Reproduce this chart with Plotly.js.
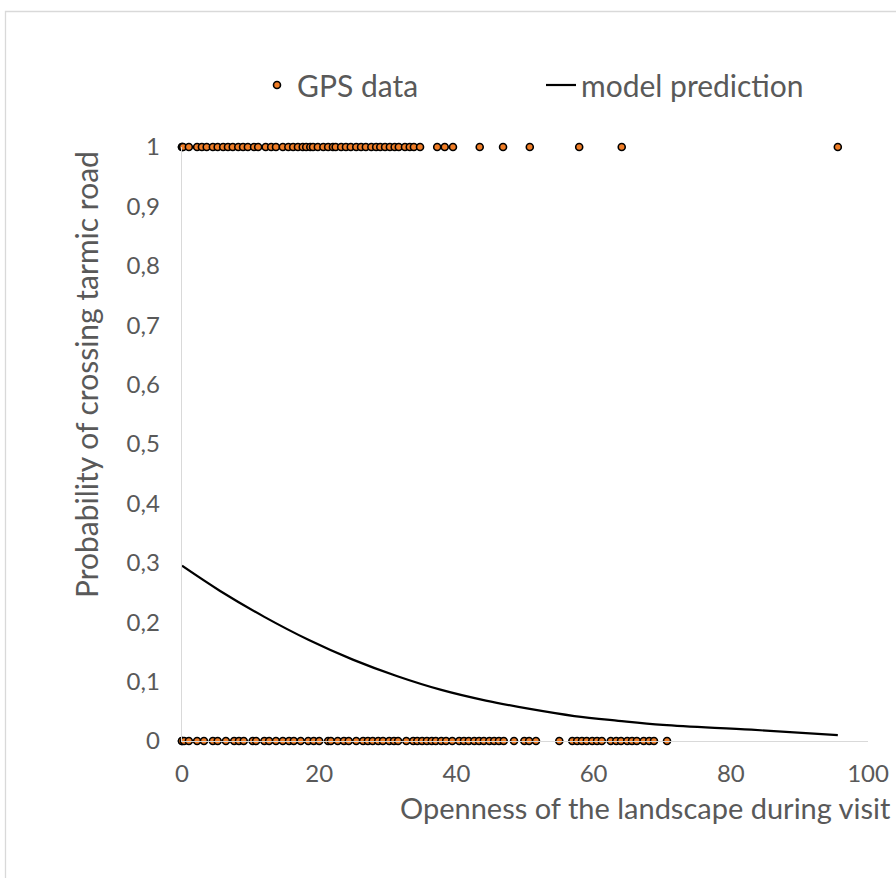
<!DOCTYPE html>
<html>
<head>
<meta charset="utf-8">
<script src="https://cdn.plot.ly/plotly-3.0.1.min.js"></script>
<style>html,body{margin:0;padding:0;background:#fff;}#chart{width:896px;height:878px;}</style>
</head>
<body>
<div id="chart"></div>
<script>
// GPS data: openness values of visits with crossing (y = 1)
const crossX = [0, 0, 0.15, 1.0, 2.2, 2.9, 3.6, 4.5, 5.2, 6.0, 6.7, 7.4, 8.2, 8.9, 9.6, 10.5, 11.1,
  12.2, 13.0, 13.7, 14.7, 15.5, 16.2, 16.9, 17.6, 18.1, 18.7, 19.1, 19.8, 20.6, 21.3, 22.0, 22.4,
  23.2, 23.9, 24.6, 25.4, 26.1, 26.8, 27.6, 28.3, 28.9, 29.6, 30.3, 31.0, 31.6, 32.5, 33.2, 33.8,
  34.7, 37.2, 38.3, 39.5, 43.4, 46.8, 50.7, 57.9, 64.1, 95.6];
// GPS data: openness values of visits without crossing (y = 0)
const noCrossX = [0, 0, 0.3, 1.0, 2.2, 3.2, 4.5, 5.2, 6.4, 7.6, 8.3, 9.0, 10.3, 10.8, 12.0, 12.7,
  13.7, 14.7, 15.6, 16.3, 17.3, 18.4, 19.2, 20.0, 21.3, 21.7, 22.7, 23.6, 24.3, 25.4, 26.4, 27.1,
  27.8, 28.6, 29.3, 30.2, 30.9, 31.5, 32.7, 33.7, 34.3, 35.0, 35.7, 36.4, 37.0, 37.8, 38.5, 39.4,
  40.4, 41.1, 41.8, 42.6, 43.3, 44.0, 44.8, 45.5, 46.2, 46.9, 48.4, 49.9, 50.6, 51.6, 55.0, 56.9,
  57.6, 58.3, 59.0, 59.8, 60.5, 61.2, 62.5, 63.3, 64.0, 64.9, 65.6, 66.3, 67.3, 68.1, 68.8, 70.7];
// model prediction curve
const modelX = [0, 5.5, 12.0, 18.5, 24.9, 31.4, 37.8, 44.3, 50.7, 57.2, 63.6, 70.1, 83.0, 95.6];
const modelY = [0.295, 0.253, 0.209, 0.170, 0.137, 0.109, 0.086, 0.068, 0.054, 0.042, 0.034, 0.027, 0.019, 0.010];
const yTickVals = [0, 0.1, 0.2, 0.3, 0.4, 0.5, 0.6, 0.7, 0.8, 0.9, 1];
const yTickText = ["0", "0,1", "0,2", "0,3", "0,4", "0,5", "0,6", "0,7", "0,8", "0,9", "1"];
const xTickVals = [0, 20, 40, 60, 80, 100];

const gpsX = crossX.concat(noCrossX);
const gpsY = crossX.map(() => 1).concat(noCrossX.map(() => 0));

const FONT = "Lato, 'Open Sans', sans-serif";
const GRAY = "#595959";

const L = 182, R = 868, T = 147, B = 741;
const W = 896, H = 878;
const px2x = p => (p - L) / (R - L);
const px2y = p => (B - p) / (B - T);

const traces = [
  {
    x: gpsX, y: gpsY, type: "scatter", mode: "markers", name: "GPS data",
    cliponaxis: false,
    marker: { size: 7, color: "#F07D26", line: { color: "#000000", width: 1.6 } }
  },
  {
    x: modelX, y: modelY, type: "scatter", mode: "lines", name: "model prediction",
    line: { color: "#000000", width: 2.2, shape: "spline", smoothing: 1 }
  }
];

const layout = {
  width: W, height: H,
  margin: { l: L, r: W - R, t: T, b: H - B, pad: 0 },
  paper_bgcolor: "#ffffff", plot_bgcolor: "#ffffff",
  font: { family: FONT, color: GRAY, size: 24 },
  showlegend: true,
  legend: {
    orientation: "h", x: px2x(257), xanchor: "left", y: px2y(85), yanchor: "middle",
    font: { family: FONT, size: 30, color: GRAY }, entrywidth: 239, bgcolor: "rgba(0,0,0,0)"
  },
  xaxis: {
    range: [0, 100], tickvals: xTickVals, ticktext: xTickVals.map(String),
    showgrid: false, zeroline: false, showline: true, linecolor: "#d9d9d9", linewidth: 1.3,
    ticks: "", ticklabelstandoff: 11, tickfont: { family: FONT, size: 24, color: GRAY }
  },
  yaxis: {
    range: [0, 1], tickvals: yTickVals, ticktext: yTickText,
    showgrid: false, zeroline: false, showline: true, linecolor: "#d9d9d9", linewidth: 1.3,
    ticks: "", ticklabelstandoff: 16, tickfont: { family: FONT, size: 24, color: GRAY }
  },
  annotations: [
    { text: "Openness of the landscape during visit", xref: "paper", yref: "paper",
      x: px2x(398), y: px2y(807), xanchor: "left", yanchor: "middle", showarrow: false,
      font: { family: FONT, size: 29, color: GRAY } },
    { text: "Probability of crossing tarmic road", xref: "paper", yref: "paper",
      x: px2x(86), y: px2y(375), xanchor: "center", yanchor: "middle", textangle: -90, showarrow: false,
      font: { family: FONT, size: 30, color: GRAY } }
  ],
  shapes: [
    { type: "rect", xref: "paper", yref: "paper", x0: px2x(5.5), x1: px2x(910), y0: px2y(11.5), y1: px2y(890),
      line: { color: "#d9d9d9", width: 1.3 }, fillcolor: "rgba(0,0,0,0)", layer: "below" }
  ]
};

Plotly.newPlot("chart", traces, layout, { displayModeBar: false, staticPlot: true });
</script>
</body>
</html>
